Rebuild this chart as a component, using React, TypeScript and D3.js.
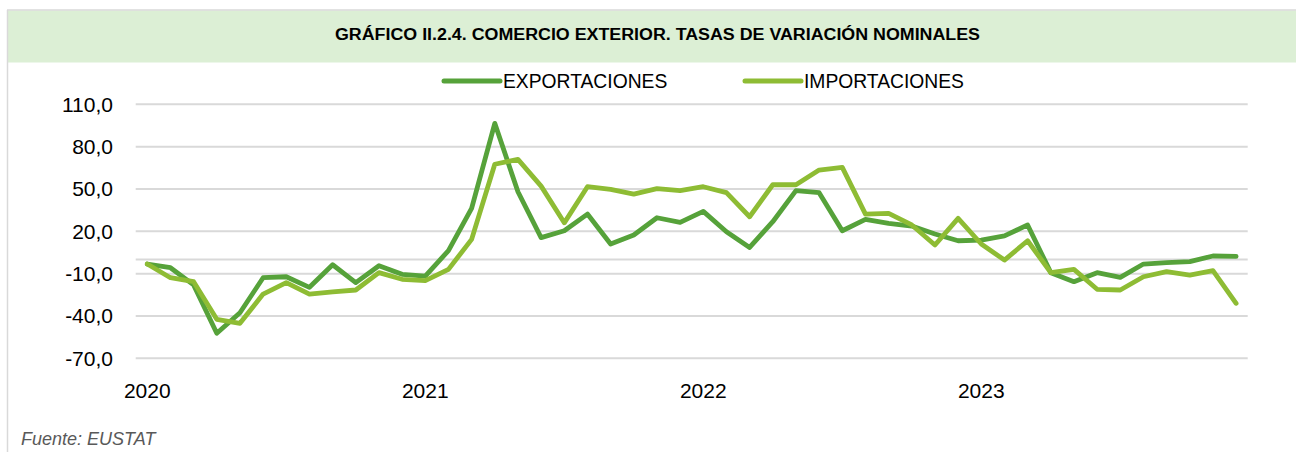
import React from "react";
import * as d3 from "d3";

const months: string[] = (() => {
  const out: string[] = [];
  for (const y of [2020, 2021, 2022, 2023]) for (let m = 1; m <= 12; m++) out.push(`${y}-${String(m).padStart(2, "0")}`);
  return out;
})();

const exportaciones: number[] = [
  -3.2, -5.8, -18, -52.3, -37.7, -12.9, -12.2, -19.7, -3.7, -16.4, -4.4, -10.5,
  -11.7, 6.3, 36.3, 96.5, 48, 15.5, 20.4, 32.2, 11, 17.4, 29.6, 26.3,
  34.1, 19.7, 8.6, 26.8, 48.8, 47.4, 20.4, 28.5, 25.6, 23.7, 18.1, 13.3,
  13.8, 16.7, 24.5, -9.3, -15.7, -9.3, -12.6, -3.2, -2.2, -1.5, 2.5, 2.2,
];

const importaciones: number[] = [
  -3.2, -12.9, -15.7, -42.4, -45.2, -24.5, -16.4, -24.5, -23, -21.6, -9.3, -14,
  -15, -7, 14.3, 67.5, 71, 52, 26, 51.6, 49.7, 46.4, 50.2, 48.8,
  51.6, 47.4, 30.3, 53, 53, 63.4, 65.3, 32.2, 32.7, 24.5, 10.3, 29.2,
  11, -0.4, 13.3, -9.3, -7, -21.1, -21.6, -12.2, -8.6, -11, -7.9, -31,
];

const yTicks: number[] = [110, 80, 50, 20, -10, -40, -70];
const yearLabels: { month: string; label: string }[] = [
  { month: "2020-01", label: "2020" },
  { month: "2021-01", label: "2021" },
  { month: "2022-01", label: "2022" },
  { month: "2023-01", label: "2023" },
];

const seriesNames = ["EXPORTACIONES", "IMPORTACIONES"];
const colors = ["#56A23A", "#8EBC34"];

export default function App() {
  const W = 1296;
  const H = 452;
  const x = d3.scalePoint<string>().domain(months).range([135.7, 1247.7]).padding(0.5);
  const y = d3.scaleLinear().domain([-70, 110]).range([358.3, 104.3]);
  const line = d3
    .line<number>()
    .x((_, i) => x(months[i]) as number)
    .y((d) => y(d));
  const font = "'Liberation Sans', Arial, sans-serif";
  const series = [exportaciones, importaciones];
  const legendX = [444, 745];
  const fmt = (t: number) => d3.format(".1f")(t).replace(".", ",").replace("\u2212", "-");

  return (
    <svg width={W} height={H} style={{ position: "absolute", left: 0, top: 0 }} fontFamily={font}>
      <rect x={0} y={0} width={W} height={H} fill="#fff" />
      {/* title band */}
      <rect x={8} y={10.5} width={W - 8} height={52} fill="#DCEFD5" />
      <line x1={7} x2={W} y1={10} y2={10} stroke="#D9D9D9" strokeWidth={1.5} />
      <line x1={7.5} x2={7.5} y1={10} y2={H} stroke="#D9D9D9" strokeWidth={1.5} />
      <text
        x={335}
        y={39.5}
        fontSize={16}
        fontWeight="bold"
        fill="#000"
        textLength={645}
        lengthAdjust="spacingAndGlyphs"
      >
        GRÁFICO II.2.4. COMERCIO EXTERIOR. TASAS DE VARIACIÓN NOMINALES
      </text>

      {/* legend */}
      {seriesNames.map((n, i) => (
        <g key={n}>
          <line x1={legendX[i]} x2={legendX[i] + 56} y1={81} y2={81} stroke={colors[i]} strokeWidth={5} strokeLinecap="round" />
          <text x={legendX[i] + 59} y={87.5} fontSize={19.3} fill="#000">
            {n}
          </text>
        </g>
      ))}

      {/* grid */}
      {yTicks.map((t) => (
        <g key={t}>
          <line x1={135.7} x2={1247.7} y1={y(t)} y2={y(t)} stroke="#D9D9D9" strokeWidth={2} />
          <text x={113} y={y(t) + 7.5} textAnchor="end" fontSize={21} fill="#000">
            {fmt(t)}
          </text>
        </g>
      ))}
      <line x1={135.7} x2={1247.7} y1={y(0)} y2={y(0)} stroke="#D9D9D9" strokeWidth={2} />

      {yearLabels.map((l) => (
        <text key={l.label} x={x(l.month) as number} y={397.5} textAnchor="middle" fontSize={21} fill="#000">
          {l.label}
        </text>
      ))}

      {series.map((s, i) => (
        <path key={i} d={line(s) as string} fill="none" stroke={colors[i]} strokeWidth={4.8} strokeLinejoin="round" strokeLinecap="round" />
      ))}

      <text x={21} y={445} fontSize={18} fontStyle="italic" fill="#595959">
        Fuente: EUSTAT
      </text>
    </svg>
  );
}
